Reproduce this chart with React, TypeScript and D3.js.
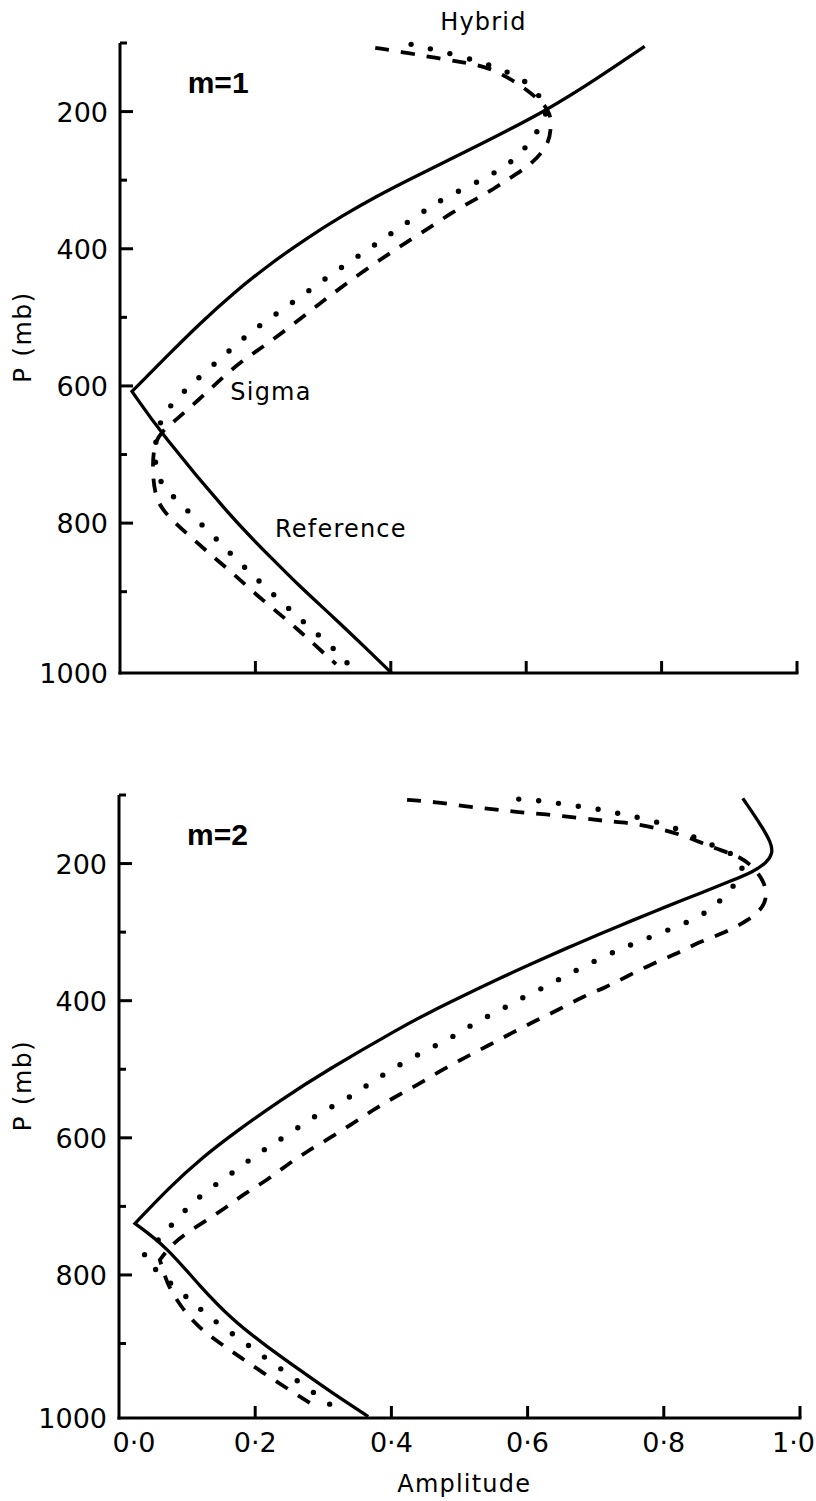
import React from "react";
import * as d3 from "d3";

// ---------- axis ticks ----------
const amplitudeTickValues = [0.2, 0.4, 0.6, 0.8, 1.0];
const amplitudeLabelValues = [0, 0.2, 0.4, 0.6, 0.8, 1.0];
const amplitudeLabels = ["0·0", "0·2", "0·4", "0·6", "0·8", "1·0"];
const pressureMajorTicks = [200, 400, 600, 800];
const pressureMinorTicks = [100, 300, 500, 700, 900];
const pressureLabels = [200, 400, 600, 800, 1000];

const panelTitles = ["m=1", "m=2"];
const curveNames = ["Reference", "Sigma", "Hybrid"];

// ---------- m=1 : [pressure (mb), amplitude] ----------
const m1Reference: [number, number][] = [
  [105, 0.775], [149, 0.709], [198, 0.632], [258, 0.512], [298, 0.429],
  [324, 0.378], [351, 0.33], [385, 0.275], [424, 0.219], [465, 0.167],
  [509, 0.118], [548, 0.078], [608, 0.0177], [667, 0.059],
  [795, 0.167], [844, 0.217], [893, 0.266], [931, 0.315], [970, 0.364],
  [1000, 0.401],
];
const m1Sigma: [number, number][] = [
  [102, 0.43], [118, 0.5], [136, 0.56], [157, 0.603], [175, 0.618],
  [198, 0.632], [217, 0.625], [237, 0.61], [258, 0.595], [275, 0.576],
  [290, 0.552], [303, 0.527], [327, 0.477], [346, 0.448], [365, 0.419],
  [400, 0.368], [437, 0.312], [478, 0.256], [518, 0.196], [558, 0.151],
  [603, 0.099], [639, 0.064], [667, 0.055], [700, 0.05], [737, 0.056],
  [758, 0.075], [779, 0.097], [820, 0.139], [861, 0.18], [903, 0.226],
  [938, 0.272], [969, 0.315], [988, 0.336],
];
const m1Hybrid: [number, number][] = [
  [107, 0.377], [115, 0.428], [122, 0.468], [128, 0.507], [135, 0.542],
  [150, 0.573], [168, 0.601], [189, 0.626], [202, 0.635], [220, 0.637],
  [247, 0.634], [275, 0.61], [293, 0.582], [313, 0.552], [330, 0.521],
  [348, 0.489], [369, 0.458], [389, 0.425], [434, 0.357], [481, 0.293],
  [529, 0.232], [566, 0.176], [594, 0.145], [621, 0.115], [647, 0.086],
  [668, 0.059], [690, 0.049], [732, 0.048], [771, 0.054], [797, 0.078],
  [826, 0.111], [851, 0.14], [876, 0.17], [902, 0.199], [925, 0.232],
  [945, 0.261], [968, 0.291], [989, 0.319],
];

// ---------- m=2 ----------
const m2Reference: [number, number][] = [
  [105, 0.916], [141, 0.941], [170, 0.958], [185, 0.96], [199, 0.951],
  [212, 0.931], [224, 0.902], [243, 0.854], [263, 0.803], [282, 0.756],
  [304, 0.703], [323, 0.658], [344, 0.611], [370, 0.553], [395, 0.501],
  [418, 0.454], [440, 0.412], [501, 0.306], [545, 0.237], [593, 0.169],
  [629, 0.122], [672, 0.074], [725, 0.0235], [759, 0.07], [817, 0.119],
  [866, 0.167], [904, 0.217], [936, 0.266], [967, 0.314], [998, 0.366],
];
const m2Sigma: [number, number][] = [
  [106, 0.587], [108, 0.616], [112, 0.644], [116, 0.672], [120, 0.701],
  [126, 0.729], [131, 0.755], [138, 0.784], [146, 0.813], [160, 0.841],
  [173, 0.87], [183, 0.897], [200, 0.917], [212, 0.914], [233, 0.903],
  [250, 0.887], [264, 0.872], [279, 0.85], [291, 0.821], [301, 0.796],
  [313, 0.766], [323, 0.74], [336, 0.711], [351, 0.681], [365, 0.653],
  [380, 0.626], [393, 0.597], [409, 0.569], [423, 0.541], [437, 0.515],
  [454, 0.488], [469, 0.458], [485, 0.427], [503, 0.396], [522, 0.366],
  [541, 0.339], [557, 0.308], [573, 0.28], [593, 0.252], [609, 0.226],
  [624, 0.203], [641, 0.18], [658, 0.157], [675, 0.132], [695, 0.108],
  [713, 0.09], [735, 0.07], [752, 0.055], [772, 0.036], [790, 0.05],
  [826, 0.092], [845, 0.114], [863, 0.135], [879, 0.157], [896, 0.181],
  [911, 0.202], [926, 0.226], [944, 0.252], [961, 0.279], [977, 0.302],
  [993, 0.328],
];
const m2Hybrid: [number, number][] = [
  [107, 0.423], [110, 0.464], [117, 0.511], [121, 0.552], [125, 0.586],
  [128, 0.626], [133, 0.673], [138, 0.714], [141, 0.755], [150, 0.797],
  [161, 0.836], [176, 0.869], [186, 0.902], [198, 0.925], [227, 0.95],
  [260, 0.952], [283, 0.924], [301, 0.89], [315, 0.85], [333, 0.816],
  [347, 0.781], [364, 0.747], [381, 0.714], [394, 0.681], [413, 0.646],
  [429, 0.612], [447, 0.577], [465, 0.543], [483, 0.508], [501, 0.474],
  [523, 0.438], [541, 0.404], [560, 0.372], [580, 0.342], [602, 0.307],
  [620, 0.276], [640, 0.246], [662, 0.217], [681, 0.185], [701, 0.158],
  [720, 0.129], [739, 0.099], [756, 0.077], [778, 0.06], [812, 0.07],
  [844, 0.089], [875, 0.115], [899, 0.147], [919, 0.179], [939, 0.211],
  [961, 0.248], [985, 0.289],
];

// ---------- layout ----------
const W = 816;
const H = 1501;
const tickFont = "'DejaVu Sans', sans-serif";

type Series = { data: [number, number][]; kind: "solid" | "dotted" | "dashed"; sharp: boolean };

const panels = [
  {
    title: panelTitles[0],
    xRange: [120, 797],
    yRange: [43, 591.7, 673],
    showXLabels: false,
    series: [
      { data: m1Reference, kind: "solid", sharp: true },
      { data: m1Sigma, kind: "dotted", sharp: false },
      { data: m1Hybrid, kind: "dashed", sharp: false },
    ] as Series[],
    annotations: [
      { text: curveNames[2], a: 0.473, p: 81 },
      { text: curveNames[1], a: 0.163, p: 620 },
      { text: curveNames[0], a: 0.229, p: 820 },
    ],
  },
  {
    title: panelTitles[1],
    xRange: [119, 800],
    yRange: [795, 1343.5, 1418],
    showXLabels: true,
    series: [
      { data: m2Reference, kind: "solid", sharp: true },
      { data: m2Sigma, kind: "dotted", sharp: true },
      { data: m2Hybrid, kind: "dashed", sharp: true },
    ] as Series[],
    annotations: [],
  },
];

function buildPath(
  data: [number, number][],
  x: d3.ScaleLinear<number, number>,
  y: d3.ScaleLinear<number, number>,
  sharp: boolean
): string {
  const line = d3
    .line<[number, number]>()
    .x((d) => x(d[1]))
    .y((d) => y(d[0]))
    .curve(d3.curveBasis);
  if (!sharp) return line(data) || "";
  const i = d3.minIndex(data, (d) => d[1]);
  const first = line(data.slice(0, i + 1)) || "";
  const second = (line(data.slice(i)) || "").replace(/^M[-\d.,e]+/, "");
  return first + second;
}

function strokeStyle(kind: string) {
  if (kind === "solid") return { strokeWidth: 3.3, strokeDasharray: undefined, strokeLinecap: "butt" as const };
  if (kind === "dotted") return { strokeWidth: 5.4, strokeDasharray: "0 20", strokeLinecap: "round" as const };
  return { strokeWidth: 3.8, strokeDasharray: "14 12", strokeLinecap: "butt" as const };
}

function Panel({ cfg }: { cfg: (typeof panels)[number] }) {
  const x = d3.scaleLinear().domain([0, 1]).range(cfg.xRange);
  const y = d3.scaleLinear().domain([100, 900, 1000]).range(cfg.yRange);
  const x0 = x(0);
  const yBottom = y(1000);
  const yTop = y(100);
  const nLabels = amplitudeLabelValues.length;
  return (
    <g>
      <line x1={x0} x2={x0} y1={yTop} y2={yBottom + 1.5} stroke="#000" strokeWidth={3} />
      <line x1={x0 - 1.5} x2={x(1) + 1.5} y1={yBottom} y2={yBottom} stroke="#000" strokeWidth={3} />
      {pressureMajorTicks.map((p) => (
        <line key={"M" + p} x1={x0} x2={x0 + 13} y1={y(p)} y2={y(p)} stroke="#000" strokeWidth={3} />
      ))}
      {pressureMinorTicks.map((p) => (
        <line key={"m" + p} x1={x0} x2={x0 + 7} y1={y(p)} y2={y(p)} stroke="#000" strokeWidth={3} />
      ))}
      {amplitudeTickValues.map((a) => (
        <line key={"xt" + a} x1={x(a)} x2={x(a)} y1={yBottom} y2={yBottom - 12} stroke="#000" strokeWidth={3} />
      ))}
      {pressureLabels.map((p) => (
        <text
          key={"yl" + p}
          x={x0 - 12}
          y={y(p) + 10}
          textAnchor="end"
          fontFamily={tickFont}
          fontSize={27}
          fill="#000"
        >
          {p}
        </text>
      ))}
      {cfg.showXLabels &&
        amplitudeLabelValues.map((a, i) => {
          const first = i === 0;
          const last = i === nLabels - 1;
          return (
            <text
              key={"xl" + a}
              x={first ? x(a) + 15 : last ? W - 1 : x(a)}
              y={yBottom + 34}
              textAnchor={last ? "end" : "middle"}
              fontFamily={tickFont}
              fontSize={27}
              fill="#000"
            >
              {amplitudeLabels[i]}
            </text>
          );
        })}
      {cfg.showXLabels && (
        <text
          x={x(0.507)}
          y={yBottom + 74}
          textAnchor="middle"
          fontFamily={tickFont}
          fontSize={24}
          letterSpacing={1.2}
          fill="#000"
        >
          Amplitude
        </text>
      )}
      <text
        transform={`translate(31,${(yTop + yBottom) / 2 - 21}) rotate(-90)`}
        textAnchor="middle"
        fontFamily={tickFont}
        fontSize={25}
        letterSpacing={1.5}
        fill="#000"
      >
        P (mb)
      </text>
      <text
        x={x(0.1)}
        y={y(173)}
        fontFamily="'Liberation Sans', Arial, sans-serif"
        fontWeight="bold"
        fontSize={30}
        fill="#000"
      >
        {cfg.title}
      </text>
      {cfg.series.map((s, i) => {
        const st = strokeStyle(s.kind);
        return (
          <path
            key={"s" + i}
            d={buildPath(s.data, x, y, s.sharp)}
            fill="none"
            stroke="#000"
            strokeWidth={st.strokeWidth}
            strokeDasharray={st.strokeDasharray}
            strokeLinecap={st.strokeLinecap}
            strokeLinejoin="miter"
          />
        );
      })}
      {cfg.annotations.map((an) => (
        <text
          key={an.text}
          x={x(an.a)}
          y={y(an.p)}
          fontFamily={tickFont}
          fontSize={24}
          letterSpacing={1.2}
          fill="#000"
        >
          {an.text}
        </text>
      ))}
    </g>
  );
}

export default function App() {
  return (
    <svg
      width={W}
      height={H}
      viewBox={`0 0 ${W} ${H}`}
      style={{ position: "absolute", left: 0, top: 0, background: "#fff" }}
    >
      <rect x={0} y={0} width={W} height={H} fill="#fff" />
      {panels.map((p, i) => (
        <Panel key={i} cfg={p} />
      ))}
    </svg>
  );
}
